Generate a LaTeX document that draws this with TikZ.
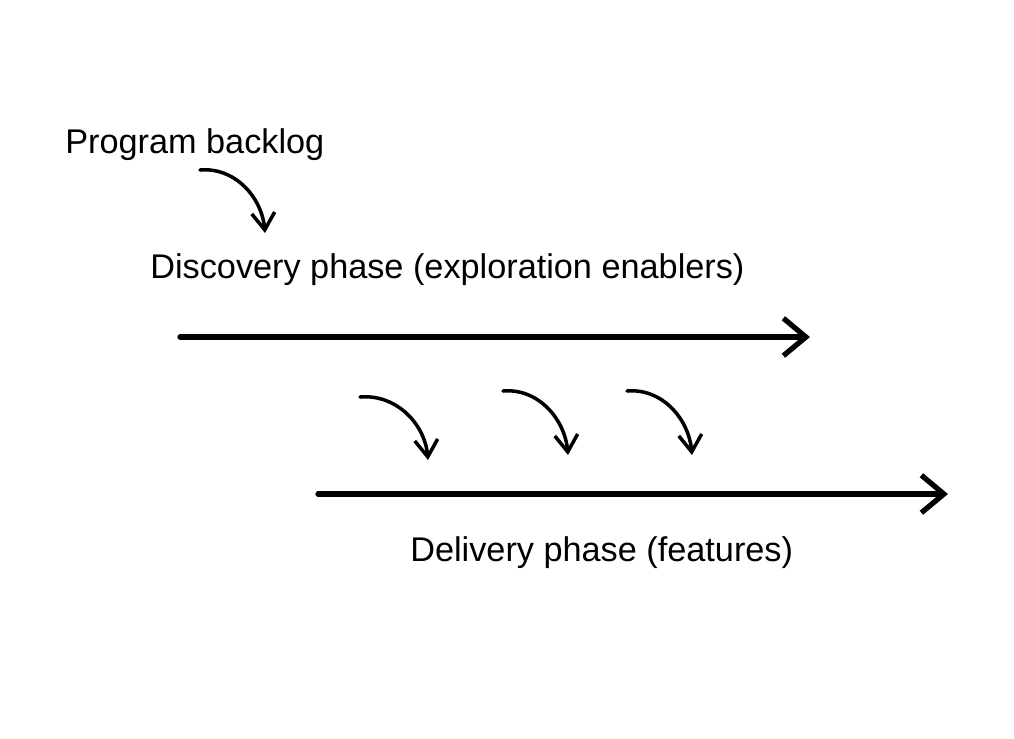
\documentclass[tikz,border=0pt]{standalone}
\usepackage{fontspec}
\setmainfont{Liberation Sans}
\usetikzlibrary{arrows.meta}
\usetikzlibrary{calc,positioning}

\begin{document}
\begin{tikzpicture}[>={Straight Barb[length=4.5mm,width=7.5mm,line width=3pt]}, x=0.02cm, y=-0.02cm,
    label/.style={anchor=west, inner sep=0pt, font=\fontsize{19.5}{24}\selectfont},
    phase/.style={->, line width=3pt, line cap=round},
    hop/.style={-{Straight Barb[length=3.4mm,width=4.6mm,line width=2pt]}, line width=2pt, line cap=round}]

    \useasboundingbox (0,0) rectangle (1014,738);

    \node[label] (backlog) at (65,145) {Program backlog};
    \node[label] (discovery) at (150,270) {Discovery phase (exploration enablers)};
    \node[label] (delivery) at (410,553) {Delivery phase (features)};

    \coordinate (B0) at (200,170);
    \coordinate (B1) at (265,233);
    \coordinate (D0) at (180,337);
    \coordinate (D1) at (810,337);
    \coordinate (F0) at (318,494);
    \coordinate (F1) at (948,494);

    \coordinate (H0) at (360,397);
    \coordinate (H1) at (428,460);
    \coordinate (I0) at (503,391);
    \coordinate (I1) at (568,455);
    \coordinate (J0) at (627,391);
    \coordinate (J1) at (692,455);

    \draw[hop] (B0) to[out=5, in=95] (B1);

    \draw[phase] (D0) -- (D1);
    \draw[phase] (F0) -- (F1);

    \draw[hop] (H0) to[out=5, in=95] (H1);
    \draw[hop] (I0) to[out=5, in=95] (I1);
    \draw[hop] (J0) to[out=5, in=95] (J1);

\end{tikzpicture}
\end{document}
